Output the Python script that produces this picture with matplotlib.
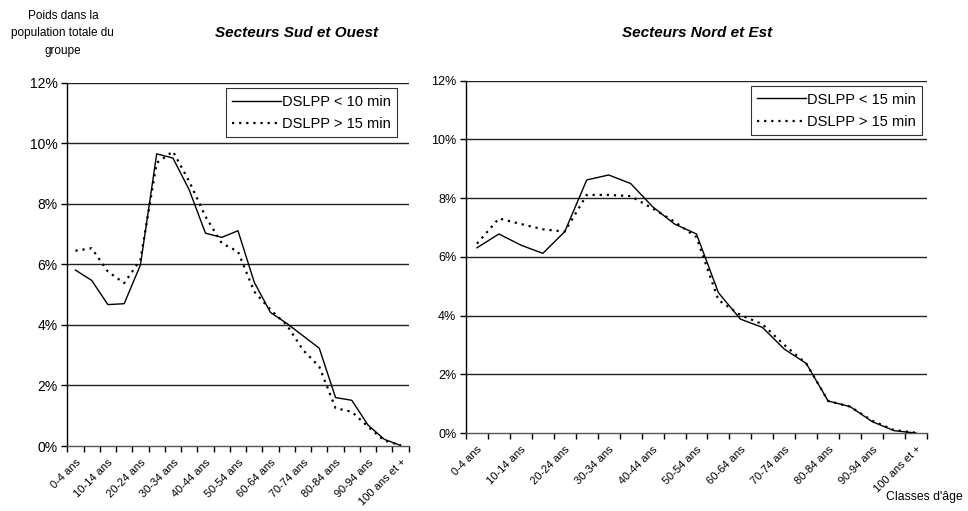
import numpy as np
import matplotlib
matplotlib.use("Agg")
import matplotlib.pyplot as plt
from matplotlib.ticker import FuncFormatter

plt.rcParams['font.family'] = ['Liberation Sans', 'DejaVu Sans']

# age classes
classes = ['0-4 ans', '5-9 ans', '10-14 ans', '15-19 ans', '20-24 ans', '25-29 ans',
           '30-34 ans', '35-39 ans', '40-44 ans', '45-49 ans', '50-54 ans', '55-59 ans',
           '60-64 ans', '65-69 ans', '70-74 ans', '75-79 ans', '80-84 ans', '85-89 ans',
           '90-94 ans', '95-99 ans', '100 ans et +']

# Secteurs Sud et Ouest (%)
so_near = [5.81, 5.47, 4.67, 4.70, 5.98, 9.65, 9.51, 8.46, 7.03, 6.89, 7.11,
           5.41, 4.41, 4.05, 3.64, 3.23, 1.60, 1.51, 0.69, 0.22, 0.02]
so_far = [6.45, 6.53, 5.76, 5.38, 6.15, 9.35, 9.73, 8.74, 7.58, 6.70, 6.42,
          5.10, 4.50, 4.00, 3.17, 2.62, 1.25, 1.13, 0.64, 0.18, 0.03]

# Secteurs Nord et Est (%)
ne_near = [6.31, 6.78, 6.40, 6.12, 6.86, 8.62, 8.79, 8.50, 7.71, 7.12, 6.78,
           4.78, 3.88, 3.60, 2.86, 2.37, 1.09, 0.90, 0.39, 0.08, 0.00]
ne_far = [6.45, 7.31, 7.12, 6.94, 6.86, 8.11, 8.11, 8.07, 7.65, 7.20, 6.67,
          4.53, 4.02, 3.71, 3.00, 2.37, 1.09, 0.90, 0.42, 0.10, 0.01]

pct = FuncFormatter(lambda v, p: '%d%%' % round(v))
x = np.arange(len(classes))

fig = plt.figure(figsize=(9.68, 5.11), dpi=100)
ax1 = fig.add_axes([0.0695, 0.1272, 0.3527, 0.711])
ax2 = fig.add_axes([0.4814, 0.1526, 0.4762, 0.6894])


def draw(ax, near, far, lab_near, lab_far, ysize, legx):
    for y in np.arange(2, 13, 2):
        ax.axhline(y, color='#222222', lw=1.0, zorder=1)
    ax.plot(x, near, color='black', lw=1.0, label=lab_near, zorder=3)
    ax.plot(x, far, color='black', lw=1.6, linestyle=(0, (1, 2.2)), label=lab_far, zorder=3)
    ax.set_xlim(-0.5, len(classes) - 0.5)
    ax.set_ylim(0, 12)
    ax.set_yticks(np.arange(0, 13, 2))
    ax.yaxis.set_major_formatter(pct)
    ax.tick_params(axis='y', labelsize=ysize, length=4, direction='out', width=1, pad=3)
    ax.set_xticks(x[::2])
    ax.set_xticklabels(classes[::2], rotation=45, ha='right', rotation_mode='anchor', fontsize=8)
    ax.set_xticks(np.arange(-0.5, len(classes)), minor=True)
    ax.tick_params(axis='x', which='major', length=0, pad=8)
    ax.tick_params(axis='x', which='minor', length=4, width=1)
    for s in ['top', 'right']:
        ax.spines[s].set_visible(False)
    ax.spines['left'].set_linewidth(1)
    ax.spines['bottom'].set_linewidth(1)
    ax.spines['bottom'].set_color('#555555')
    leg = ax.legend(loc='upper right', bbox_to_anchor=(legx, 0.985), fontsize=10.5,
                    frameon=True, fancybox=False, edgecolor='black', handlelength=3.3,
                    handletextpad=0.1, borderpad=0.45, labelspacing=0.55, borderaxespad=0)
    leg.get_frame().set_linewidth(0.8)


draw(ax1, so_near, so_far, 'DSLPP < 10 min', 'DSLPP > 15 min', 10, 0.967)
draw(ax2, ne_near, ne_far, 'DSLPP < 15 min', 'DSLPP > 15 min', 9, 0.99)

fig.text(0.306, 0.935, 'Secteurs Sud et Ouest', ha='center', va='center',
         fontsize=11, fontweight='bold', fontstyle='italic')
fig.text(0.720, 0.935, 'Secteurs Nord et Est', ha='center', va='center',
         fontsize=11, fontweight='bold', fontstyle='italic')
fig.text(0.065, 0.935, 'Poids dans la\npopulation totale du\ngroupe', ha='center',
         va='center', fontsize=8.5, linespacing=1.6)
fig.text(0.955, 0.027, "Classes d'âge", ha='center', va='center', fontsize=8.8)

fig.savefig('out.png', dpi=100)
